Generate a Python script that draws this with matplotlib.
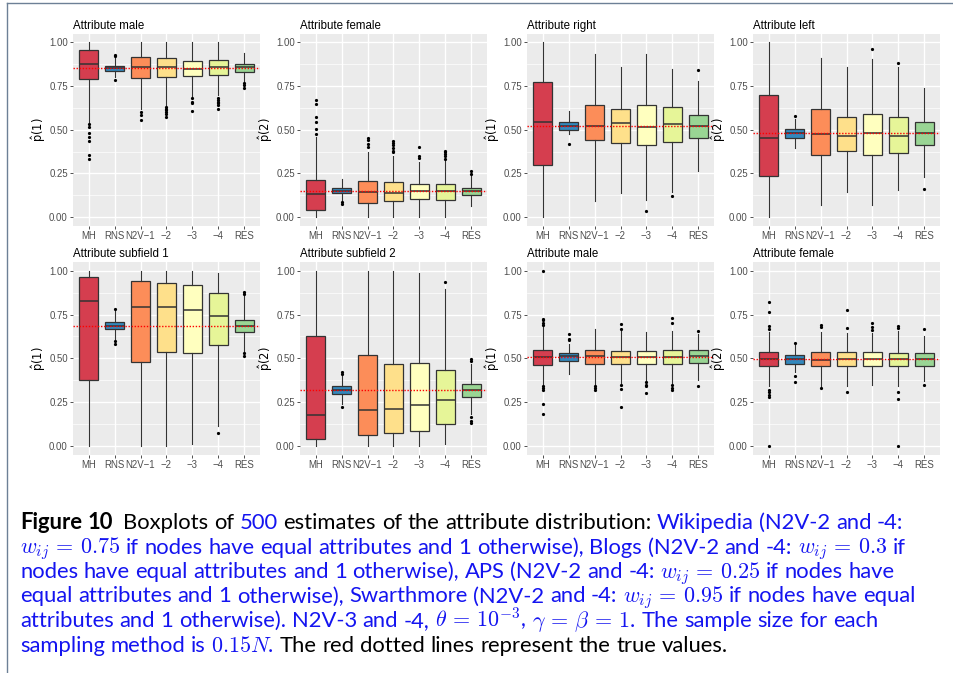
import matplotlib
matplotlib.use('Agg')
import matplotlib.pyplot as plt
from matplotlib import font_manager
from matplotlib.lines import Line2D

# ---- data ----------------------------------------------------------------
methods = ['MH', 'RNS', 'N2V\u22121', '\u22122', '\u22123', '\u22124', 'RES']
box_colors = ['#D53E4F', '#3288BD', '#FC8D59', '#FEE08B', '#FFFFBF', '#E6F598', '#99D594']
titles = ['Attribute male', 'Attribute female', 'Attribute right', 'Attribute left',
          'Attribute subfield 1', 'Attribute subfield 2', 'Attribute male', 'Attribute female']
ylab_idx = [1, 2, 1, 2, 1, 2, 1, 2]
true_vals = [0.851, 0.151, 0.520, 0.482, 0.684, 0.316, 0.508, 0.495]

q1 = [
    [0.788, 0.836, 0.795, 0.801, 0.809, 0.813, 0.832],
    [0.044, 0.138, 0.084, 0.090, 0.105, 0.101, 0.128],
    [0.300, 0.497, 0.440, 0.426, 0.411, 0.430, 0.455],
    [0.233, 0.455, 0.356, 0.379, 0.354, 0.369, 0.411],
    [0.374, 0.667, 0.481, 0.533, 0.531, 0.573, 0.651],
    [0.036, 0.297, 0.059, 0.075, 0.084, 0.125, 0.278],
    [0.464, 0.485, 0.469, 0.467, 0.469, 0.469, 0.475],
    [0.453, 0.470, 0.453, 0.457, 0.457, 0.453, 0.453],
]
med = [
    [0.876, 0.851, 0.857, 0.860, 0.845, 0.857, 0.857],
    [0.130, 0.151, 0.147, 0.141, 0.151, 0.151, 0.151],
    [0.547, 0.522, 0.522, 0.541, 0.518, 0.533, 0.520],
    [0.455, 0.482, 0.478, 0.463, 0.484, 0.467, 0.482],
    [0.829, 0.684, 0.795, 0.795, 0.776, 0.743, 0.684],
    [0.176, 0.318, 0.207, 0.209, 0.232, 0.259, 0.316],
    [0.508, 0.511, 0.511, 0.506, 0.506, 0.508, 0.511],
    [0.495, 0.495, 0.490, 0.497, 0.497, 0.495, 0.495],
]
q3 = [
    [0.956, 0.864, 0.914, 0.908, 0.893, 0.899, 0.876],
    [0.214, 0.166, 0.205, 0.199, 0.191, 0.189, 0.168],
    [0.772, 0.545, 0.642, 0.620, 0.644, 0.629, 0.585],
    [0.698, 0.505, 0.616, 0.574, 0.589, 0.570, 0.545],
    [0.967, 0.709, 0.939, 0.929, 0.920, 0.875, 0.720],
    [0.625, 0.339, 0.517, 0.469, 0.473, 0.431, 0.354],
    [0.548, 0.529, 0.548, 0.542, 0.544, 0.546, 0.546],
    [0.537, 0.518, 0.533, 0.533, 0.533, 0.530, 0.528],
]
whislo = [
    [0.545, 0.800, 0.616, 0.640, 0.685, 0.698, 0.780],
    [0.0, 0.100, 0.0, 0.0, 0.0, 0.0, 0.067],
    [0.0, 0.474, 0.090, 0.138, 0.100, 0.143, 0.264],
    [0.0, 0.398, 0.071, 0.143, 0.071, 0.153, 0.229],
    [0.0, 0.611, 0.0, 0.0, 0.010, 0.115, 0.536],
    [0.0, 0.240, 0.0, 0.0, 0.0, 0.010, 0.182],
    [0.349, 0.412, 0.349, 0.358, 0.368, 0.358, 0.377],
    [0.342, 0.420, 0.342, 0.342, 0.350, 0.342, 0.370],
]
whishi = [
    [1.0, 0.910, 1.0, 1.0, 1.0, 1.0, 0.937],
    [0.459, 0.220, 0.373, 0.350, 0.316, 0.325, 0.233],
    [1.0, 0.606, 0.933, 0.859, 0.933, 0.845, 0.778],
    [1.0, 0.564, 0.908, 0.860, 0.902, 0.857, 0.736],
    [1.0, 0.770, 1.0, 1.0, 1.0, 0.990, 0.853],
    [1.0, 0.400, 1.0, 1.0, 0.990, 0.895, 0.469],
    [0.688, 0.584, 0.669, 0.655, 0.648, 0.655, 0.636],
    [0.648, 0.577, 0.648, 0.645, 0.644, 0.657, 0.629],
]
fliers = [
    [[0.53, 0.516, 0.484, 0.459, 0.434, 0.354, 0.335], [0.93, 0.92, 0.785],
     [0.602, 0.583, 0.554], [0.63, 0.62, 0.61, 0.60, 0.59, 0.575],
     [0.679, 0.66, 0.65, 0.608], [0.68, 0.67, 0.66, 0.65, 0.64, 0.62], [0.769, 0.755, 0.736]],
    [[0.669, 0.646, 0.570, 0.545, 0.507, 0.474], [0.085, 0.075], [0.45, 0.44, 0.42, 0.40],
     [0.436, 0.425, 0.41, 0.395, 0.38, 0.37], [0.40, 0.35, 0.34],
     [0.38, 0.37, 0.36, 0.35, 0.33], [0.262, 0.245]],
    [[], [0.42], [], [], [0.038], [0.122], [0.841]],
    [[], [0.579], [], [], [0.962], [0.880], [0.159]],
    [[], [0.78, 0.60, 0.584], [], [], [], [0.071], [0.881, 0.866, 0.531, 0.513]],
    [[], [0.42, 0.41, 0.22], [], [], [], [0.933], [0.496, 0.483, 0.167, 0.14, 0.128]],
    [[1.0, 0.722, 0.718, 0.70, 0.69, 0.34, 0.33, 0.32, 0.24, 0.182], [0.636, 0.61, 0.603],
     [0.343, 0.33, 0.32], [0.693, 0.665, 0.349, 0.326, 0.224], [0.362, 0.35, 0.34, 0.30],
     [0.73, 0.70, 0.345, 0.33, 0.316], [0.655, 0.339]],
    [[0.822, 0.764, 0.685, 0.67, 0.32, 0.31, 0.29, 0.28, 0.0], [0.59, 0.40, 0.365],
     [0.69, 0.68, 0.332], [0.776, 0.675, 0.305], [0.70, 0.678, 0.66],
     [0.684, 0.673, 0.305, 0.27, 0.0], [0.667, 0.345]],
]
yticks = [0.0, 0.25, 0.5, 0.75, 1.0]
ytick_labels = ['0.00', '0.25', '0.50', '0.75', '1.00']

# ---- caption text ----------------------------------------------------------
BLK = 'black'
BLU = '#1414F0'


def words(text, color, bold=False):
    return [(w, color, bold) for w in text.split(' ')]


caption_lines = [
    words('Figure 10', BLK, True) + words('Boxplots of', BLK) + words('500', BLU)
    + words('estimates of the attribute distribution:', BLK) + words('Wikipedia (N2V-2 and -4:', BLU),
    words(r'$w_{ij}\,=\,0.75$ if nodes have equal attributes and 1 otherwise), Blogs (N2V-2 and -4: $w_{ij}\,=\,0.3$ if', BLU),
    words(r'nodes have equal attributes and 1 otherwise), APS (N2V-2 and -4: $w_{ij}\,=\,0.25$ if nodes have', BLU),
    words(r'equal attributes and 1 otherwise), Swarthmore (N2V-2 and -4: $w_{ij}\,=\,0.95$ if nodes have equal', BLU),
    words(r'attributes and 1 otherwise). N2V-3 and -4, $\theta\,=\,10^{-3}$, $\gamma\,=\,\beta\,=\,1$. The sample size for each', BLU),
    words(r'sampling method is $0.15N$.', BLU) + words('The red dotted lines represent the true values.', BLK),
]
line_ends = [902, 917, 900, 918, 886]

# ---- layout ----------------------------------------------------------------
W, H = 954, 673
plt.rcParams['font.family'] = ['Liberation Sans', 'DejaVu Sans']
plt.rcParams['mathtext.fontset'] = 'cm'

fig = plt.figure(figsize=(W / 100, H / 100), dpi=100)
fig.patch.set_facecolor('white')

col_left = [73, 300, 527, 753]
row_top = [33.5, 262]
pw, ph = 187, 192.5

for k in range(8):
    r, c = divmod(k, 4)
    ax = fig.add_axes([col_left[c] / W, 1 - (row_top[r] + ph) / H, pw / W, ph / H])
    ax.set_facecolor('#EBEBEB')
    for s in ax.spines.values():
        s.set_visible(False)
    stats = []
    for i in range(len(methods)):
        stats.append(dict(q1=q1[k][i], med=med[k][i], q3=q3[k][i],
                          whislo=whislo[k][i], whishi=whishi[k][i], fliers=fliers[k][i]))
    bp = ax.bxp(stats, positions=range(1, len(methods) + 1), widths=0.75,
                patch_artist=True, showcaps=False,
                boxprops=dict(edgecolor='#333333', linewidth=0.9),
                whiskerprops=dict(color='#333333', linewidth=0.8),
                medianprops=dict(color='#333333', linewidth=1.1),
                flierprops=dict(marker='o', markersize=1.3, markerfacecolor='black',
                                markeredgecolor='black', linestyle='none'))
    for patch, col in zip(bp['boxes'], box_colors):
        patch.set_facecolor(col)
    ax.axhline(true_vals[k], color='red', linestyle=(0, (1, 1.2)), linewidth=1.0, zorder=6)

    ax.set_xlim(0.4, 7.6)
    ax.set_ylim(-0.05, 1.05)
    ax.set_xticks(range(1, len(methods) + 1))
    ax.set_xticklabels(methods)
    ax.set_yticks(yticks)
    ax.set_yticklabels(ytick_labels)
    ax.set_yticks([0.125, 0.375, 0.625, 0.875], minor=True)
    ax.set_axisbelow(True)
    ax.grid(which='major', color='white', linewidth=1.0)
    ax.grid(which='minor', axis='y', color='white', linewidth=0.5)
    ax.tick_params(which='major', length=2.2, width=0.6, color='#333333',
                   labelsize=6.9, labelcolor='#4D4D4D', pad=1.5)
    ax.tick_params(which='minor', length=0)
    ax.set_title(titles[k], loc='left', fontsize=8.3, pad=3.5)
    ax.set_ylabel(r'$\hat{\mathrm{p}}(%d)$' % ylab_idx[k], fontsize=8.3,
                  math_fontfamily='dejavusans', labelpad=1)

# ---- caption ---------------------------------------------------------------
names = {f.name for f in font_manager.fontManager.ttflist}
cap_font = 'DejaVu Sans'
for cand in ['Liberation Sans Narrow', 'Lato', 'Roboto', 'Liberation Sans']:
    if cand in names:
        cap_font = cand
        break
renderer = fig.canvas.get_renderer()
x_left = 20
baselines = [529, 553.5, 578, 602.5, 627, 651.5]


def measure(s, size, bold=False):
    t = fig.text(0, 0, s, fontsize=size, family=cap_font, math_fontfamily='cm',
                 fontweight='bold' if bold else 'normal')
    w = t.get_window_extent(renderer).width
    t.remove()
    return w


def place(size, draw=True):
    space = measure('a a', size) - measure('aa', size)
    ends = []
    for i, line in enumerate(caption_lines):
        x = x_left
        for j, (w, col, b) in enumerate(line):
            t = fig.text(x / W, 1 - baselines[i] / H, w, color=col, fontsize=size,
                         family=cap_font, math_fontfamily='cm',
                         fontweight='bold' if b else 'normal', va='baseline', ha='left')
            x += t.get_window_extent(renderer).width
            if not draw:
                t.remove()
            if j < len(line) - 1:
                x += space * (1.8 if (b and not line[j + 1][2]) else 1.0)
        ends.append(x)
    return ends


size0 = 12.0
ends = place(size0, draw=False)
scale = min((line_ends[i] - x_left) / (ends[i] - x_left) for i in range(len(line_ends)))
place(size0 * scale)

# frame of the screenshot
fig.add_artist(Line2D([7 / W, 7 / W], [0, 1 - 3 / H], transform=fig.transFigure,
                      color='#6D8096', linewidth=1.0))
fig.add_artist(Line2D([7 / W, 1], [1 - 3 / H, 1 - 3 / H], transform=fig.transFigure,
                      color='#6D8096', linewidth=1.0))

fig.savefig('out.png', dpi=100, facecolor='white')
